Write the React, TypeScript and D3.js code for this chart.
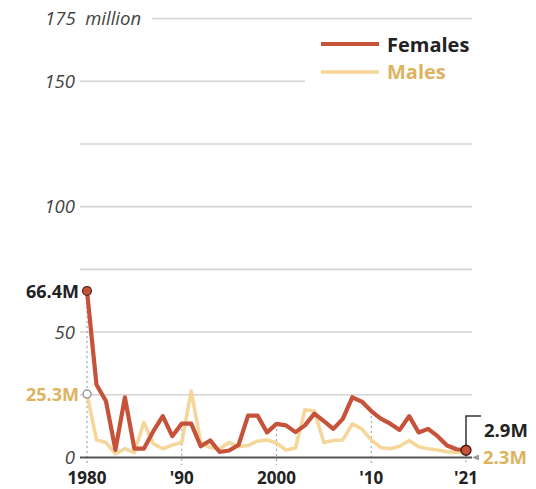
import React from "react";
import * as d3 from "d3";

const years: number[] = [
  1980, 1981, 1982, 1983, 1984, 1985, 1986, 1987, 1988, 1989,
  1990, 1991, 1992, 1993, 1994, 1995, 1996, 1997, 1998, 1999,
  2000, 2001, 2002, 2003, 2004, 2005, 2006, 2007, 2008, 2009,
  2010, 2011, 2012, 2013, 2014, 2015, 2016, 2017, 2018, 2019, 2021,
];

const females: number[] = [
  66.4, 29, 22.5, 3, 24, 3.5, 3.5, 10.5, 16.5, 8.5,
  13.5, 13.5, 4.5, 6.8, 2.2, 2.8, 5, 16.7, 16.7, 10,
  13.4, 12.8, 10.1, 12.8, 17.5, 14.5, 11.4, 15.4, 24, 22.3,
  18.5, 15.5, 13.5, 11, 16.5, 10, 11.4, 8.5, 4.8, 3.3, 2.9,
];

const males: number[] = [
  25.3, 7, 6, 1.5, 3.5, 2, 14, 5.5, 3.5, 5,
  6, 26.5, 6, 4, 3.5, 6, 4.3, 4.8, 6.5, 7,
  5.8, 3, 3.8, 19, 18.5, 6, 6.8, 7, 13.4, 11.4,
  7, 4, 3.5, 4.5, 6.8, 4.3, 3.5, 3, 2.3, 2, 2.3,
];

const gridValues: number[] = [25, 50, 75, 100, 125];
const yTickLabels: { v: number; t: string }[] = [
  { v: 175, t: "175  million" },
  { v: 150, t: "150" },
  { v: 100, t: "100" },
  { v: 50, t: "50" },
  { v: 0, t: "0" },
];
const xTicks: { y: number; t: string }[] = [
  { y: 1980, t: "1980" },
  { y: 1990, t: "'90" },
  { y: 2000, t: "2000" },
  { y: 2010, t: "'10" },
  { y: 2021, t: "'21" },
];

const RED = "#c6523a";
const YELLOW = "#f6d596";
const GOLD = "#deb35f";
const FONT = "'Open Sans', sans-serif";

export default function App() {
  const x = d3.scalePoint<number>().domain(years).range([87, 466]);
  const y = d3.scaleLinear().domain([0, 175]).range([457.5, 18.5]);

  const line = d3
    .line<number>()
    .x((_, i) => x(years[i]) as number)
    .y((d) => y(d))
    .curve(d3.curveLinear);

  const gx0 = 80;
  const gx1 = 472;
  const last = years.length - 1;
  const xl = x(years[last]) as number;

  return (
    <svg
      width={536}
      height={489}
      style={{ position: "absolute", left: 0, top: 0, background: "#fff" }}
      fontFamily={FONT}
    >
      {/* grid */}
      {gridValues.map((v) => (
        <line key={v} x1={gx0} x2={gx1} y1={y(v)} y2={y(v)} stroke="#d4d4d4" strokeWidth={1.6} />
      ))}
      <line x1={gx0} x2={305} y1={y(150)} y2={y(150)} stroke="#d4d4d4" strokeWidth={1.6} />
      <line x1={152} x2={gx1} y1={y(175)} y2={y(175)} stroke="#d4d4d4" strokeWidth={1.6} />

      {/* y labels */}
      {yTickLabels.map((d) =>
        d.v === 175 ? (
          <text
            key={d.v}
            x={45}
            y={y(d.v) + 6.5}
            fontSize={18.5}
            fontStyle="italic"
            fill="#444"
            style={{ whiteSpace: "pre" }}
          >
            {d.t}
          </text>
        ) : (
          <text key={d.v} x={75} y={y(d.v) + 6.5} fontSize={18.5} fontStyle="italic" fill="#444" textAnchor="end">
            {d.t}
          </text>
        )
      )}

      {/* dotted ticks */}
      {xTicks.map((d) => {
        const i = years.indexOf(d.y);
        const top = Math.max(females[i], males[i]);
        return (
          <line
            key={d.t}
            x1={x(d.y)}
            x2={x(d.y)}
            y1={y(top)}
            y2={465}
            stroke="#9aaaba"
            strokeWidth={1.2}
            strokeDasharray="2,3"
          />
        );
      })}

      {/* baseline */}
      <line x1={gx0} x2={gx1} y1={y(0)} y2={y(0)} stroke="#555" strokeWidth={2} />

      {/* series */}
      <path d={line(males) || ""} fill="none" stroke={YELLOW} strokeWidth={3.6} strokeLinejoin="round" opacity={0.95} />
      <path d={line(females) || ""} fill="none" stroke={RED} strokeWidth={4.2} strokeLinejoin="round" />

      {/* x labels */}
      {xTicks.map((d) => (
        <text key={d.t} x={x(d.y)} y={484} fontSize={17} fontWeight={700} fill="#222" textAnchor="middle">
          {d.t}
        </text>
      ))}

      {/* start annotations */}
      <circle cx={x(years[0])} cy={y(males[0])} r={4} fill="#fff" stroke="#999" strokeWidth={1.5} />
      <circle cx={x(years[0])} cy={y(females[0])} r={4.4} fill={RED} stroke="#5a2a20" strokeWidth={1.3} />
      <text x={79} y={y(females[0]) + 7} fontSize={18} fontWeight={700} fill="#222" textAnchor="end">
        {`${females[0]}M`}
      </text>
      <text x={79} y={y(males[0]) + 7} fontSize={18} fontWeight={700} fill={GOLD} textAnchor="end">
        {`${males[0]}M`}
      </text>

      {/* end annotations */}
      <path
        d={`M${xl},${y(females[last])} V416 H481`}
        fill="none"
        stroke="#333"
        strokeWidth={1.5}
      />
      <circle cx={xl} cy={y(females[last])} r={5} fill={RED} stroke="#3a1a10" strokeWidth={1.3} />
      <text x={484} y={437} fontSize={18.5} fontWeight={700} fill="#222">
        {`${females[last]}M`}
      </text>
      <path d="M472,457.5 L479,454.5 L479,460.5 Z" fill="#999" />
      <text x={483} y={464} fontSize={18.5} fontWeight={700} fill={GOLD}>
        {`${males[last]}M`}
      </text>

      {/* legend */}
      <line x1={321} x2={379} y1={44} y2={44} stroke={RED} strokeWidth={4.2} />
      <text x={387} y={52} fontSize={20} fontWeight={700} fill="#222">
        Females
      </text>
      <line x1={321} x2={379} y1={72} y2={72} stroke={YELLOW} strokeWidth={3.6} />
      <text x={387} y={79} fontSize={20} fontWeight={700} fill={GOLD}>
        Males
      </text>
    </svg>
  );
}
